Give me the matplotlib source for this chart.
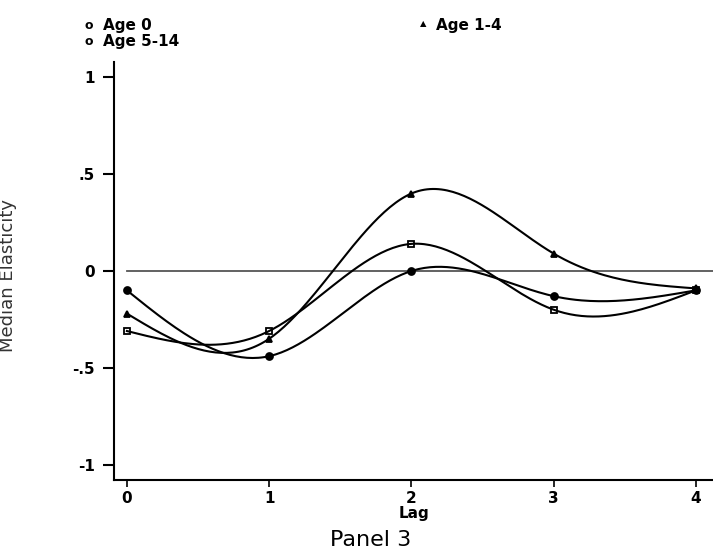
import numpy as np
import matplotlib.pyplot as plt

# lags and median elasticities
lags = [0, 1, 2, 3, 4]
age0 = [-0.10, -0.44, 0.00, -0.13, -0.10]
age1_4 = [-0.22, -0.35, 0.40, 0.09, -0.09]
age5_14 = [-0.31, -0.31, 0.14, -0.20, -0.10]

yticks = [-1, -0.5, 0, 0.5, 1]
ytick_labels = ['-1', '-.5', '0', '.5', '1']


def natural_spline(x, y, n=200):
    # natural cubic spline through the points, used only to draw the curve
    x = np.asarray(x, float)
    y = np.asarray(y, float)
    k = len(x)
    h = np.diff(x)
    A = np.zeros((k, k))
    r = np.zeros(k)
    A[0, 0] = A[-1, -1] = 1
    for i in range(1, k - 1):
        A[i, i - 1] = h[i - 1]
        A[i, i] = 2 * (h[i - 1] + h[i])
        A[i, i + 1] = h[i]
        r[i] = 6 * ((y[i + 1] - y[i]) / h[i] - (y[i] - y[i - 1]) / h[i - 1])
    m = np.linalg.solve(A, r)
    xs = np.linspace(x[0], x[-1], n)
    idx = np.clip(np.searchsorted(x, xs) - 1, 0, k - 2)
    x0, x1 = x[idx], x[idx + 1]
    hh = x1 - x0
    a = (x1 - xs) / hh
    b = (xs - x0) / hh
    ys = a * y[idx] + b * y[idx + 1] + ((a**3 - a) * m[idx] + (b**3 - b) * m[idx + 1]) * hh**2 / 6
    return xs, ys


fig = plt.figure(figsize=(7.13, 5.57), dpi=100)
ax = fig.add_axes([0.160, 0.138, 0.84, 0.751])

ax.plot([0, 4.12], [0, 0], color='#555555', lw=1.3)

series = [(age0, 'o', 'black', 'Age 0'),
          (age1_4, '^', 'black', 'Age 1-4'),
          (age5_14, 's', 'none', 'Age 5-14')]
for vals, mk, fc, lab in series:
    xs, ys = natural_spline(lags, vals)
    ax.plot(xs, ys, color='black', lw=1.5)
    ax.plot(lags, vals, mk, ms=5, mfc=fc, mec='black', mew=1.3)

ax.set_xlim(-0.09, 4.12)
ax.set_ylim(-1.08, 1.08)
ax.set_yticks(yticks)
ax.set_yticklabels(ytick_labels)
ax.set_xticks(lags)
ax.spines['top'].set_visible(False)
ax.spines['right'].set_visible(False)
ax.spines['left'].set_linewidth(1.5)
ax.spines['bottom'].set_linewidth(1.5)
ax.tick_params(axis='y', direction='out', length=8, width=1.5, labelsize=11, pad=6)
ax.tick_params(axis='x', direction='out', length=5, width=1.2, labelsize=11, pad=3)
for t in ax.get_xticklabels() + ax.get_yticklabels():
    t.set_fontweight('bold')

ax.set_xlabel('Lag', fontsize=11, fontweight='bold', labelpad=0)
# y label sits partly off the left edge, as in the scanned original
fig.text(0.011, 0.505, 'Median Elasticity', rotation=90, ha='center', va='center',
         fontsize=13, color='#333333')
fig.text(0.52, 0.03, 'Panel 3', ha='center', va='center', fontsize=16)

# legend drawn as header text, like the original
fig.text(0.125, 0.955, 'o', ha='center', va='center', fontsize=9, fontweight='bold')
fig.text(0.145, 0.955, 'Age 0', ha='left', va='center', fontsize=11, fontweight='bold')
fig.text(0.125, 0.925, 'o', ha='center', va='center', fontsize=9, fontweight='bold')
fig.text(0.145, 0.925, 'Age 5-14', ha='left', va='center', fontsize=11, fontweight='bold')
fig.text(0.593, 0.958, '\u25b2', ha='center', va='center', fontsize=6)
fig.text(0.612, 0.955, 'Age 1-4', ha='left', va='center', fontsize=11, fontweight='bold')

fig.savefig('out.png', dpi=100)
